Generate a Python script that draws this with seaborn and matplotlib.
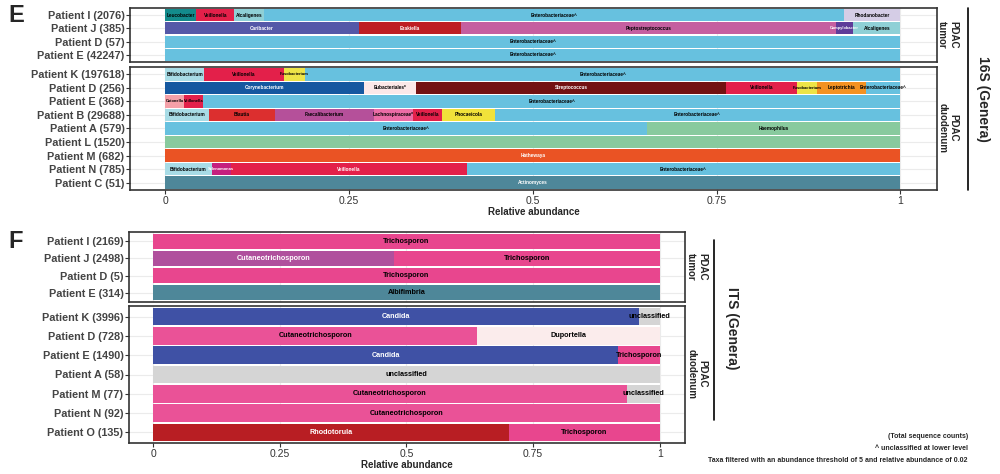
import matplotlib
matplotlib.use('Agg')
import matplotlib.pyplot as plt
import seaborn as sns

# ---- data: 16S genera ----
e_tumor_rows = ['Patient I (2076)', 'Patient J (385)', 'Patient D (57)', 'Patient E (42247)']
e_tumor_segs = [
    [('Leucobacter', 0.042), ('Veillonella', 0.052), ('Alcaligenes', 0.040), ('Enterobacteriaceae^', 0.790), ('Rhodanobacter', 0.076)],
    [('Caribacter', 0.263), ('Ezakiella', 0.140), ('Peptostreptococcus', 0.510), ('Campylobacter', 0.023), ('Alcaligenes', 0.064)],
    [('Enterobacteriaceae^', 1.0)],
    [('Enterobacteriaceae^', 1.0)],
]
e_duo_rows = ['Patient K (197618)', 'Patient D (256)', 'Patient E (368)', 'Patient B (29688)', 'Patient A (579)',
              'Patient L (1520)', 'Patient M (682)', 'Patient N (785)', 'Patient C (51)']
e_duo_segs = [
    [('Bifidobacterium', 0.053), ('Veillonella', 0.108), ('Fusobacterium', 0.029), ('Enterobacteriaceae^', 0.810)],
    [('Corynebacterium', 0.271), ('Eubacteriales*', 0.070), ('Streptococcus', 0.422), ('Veillonella', 0.097),
     ('Fusobacterium', 0.027), ('Leptotrichia', 0.067), ('Enterobacteriaceae^', 0.046)],
    [('Catonella', 0.026), ('Veillonella', 0.025), ('Enterobacteriaceae^', 0.949)],
    [('Bifidobacterium', 0.060), ('Blautia', 0.089), ('Faecalibacterium', 0.135), ('Lachnospiraceae*', 0.053),
     ('Veillonella', 0.040), ('Phocaeicola', 0.071), ('Enterobacteriaceae^', 0.552)],
    [('Enterobacteriaceae^', 0.655), ('Haemophilus', 0.345)],
    [('Haemophilus', 1.0)],
    [('Hathewaya', 1.0)],
    [('Bifidobacterium', 0.063), ('Selenomonas', 0.026), ('Veillonella', 0.321), ('Enterobacteriaceae^', 0.590)],
    [('Actinomyces', 1.0)],
]

# ---- data: ITS genera ----
f_tumor_rows = ['Patient I (2169)', 'Patient J (2498)', 'Patient D (5)', 'Patient E (314)']
f_tumor_segs = [
    [('Trichosporon', 1.0)],
    [('Cutaneotrichosporon', 0.475), ('Trichosporon', 0.525)],
    [('Trichosporon', 1.0)],
    [('Albifimbria', 1.0)],
]
f_duo_rows = ['Patient K (3996)', 'Patient D (728)', 'Patient E (1490)', 'Patient A (58)',
              'Patient M (77)', 'Patient N (92)', 'Patient O (135)']
f_duo_segs = [
    [('Candida', 0.960), ('unclassified', 0.040)],
    [('Cutaneotrichosporon', 0.640), ('Duportella', 0.360)],
    [('Candida', 0.918), ('Trichosporon', 0.082)],
    [('unclassified', 1.0)],
    [('Cutaneotrichosporon', 0.935), ('unclassified', 0.065)],
    [('Cutaneotrichosporon', 1.0)],
    [('Rhodotorula', 0.703), ('Trichosporon', 0.297)],
]

colors = {
    'Enterobacteriaceae^': '#67C1DF', 'Veillonella': '#E3204A', 'Leucobacter': '#138B8C',
    'Alcaligenes': '#8FD0D6', 'Rhodanobacter': '#D5CDE6', 'Caribacter': '#5458A8',
    'Ezakiella': '#BE1E24', 'Peptostreptococcus': '#C55FA0', 'Campylobacter': '#5E3C99',
    'Bifidobacterium': '#A8DCE6', 'Fusobacterium': '#EDE447', 'Corynebacterium': '#1558A0',
    'Eubacteriales*': '#FBE8E8', 'Streptococcus': '#731212', 'Leptotrichia': '#F39222',
    'Catonella': '#F4A0A8', 'Blautia': '#DC2F2F', 'Faecalibacterium': '#B5509A',
    'Lachnospiraceae*': '#EC6CA6', 'Phocaeicola': '#F1E23A', 'Haemophilus': '#88CA9E',
    'Hathewaya': '#EA5324', 'Selenomonas': '#C51F7E', 'Actinomyces': '#4E8799',
    'Trichosporon': '#E8468E', 'Cutaneotrichosporon': '#EA5297', 'Albifimbria': '#4E8799',
    'Candida': '#3F51A5', 'unclassified': '#D5D5D5', 'Duportella': '#FBECEC', 'Rhodotorula': '#B81E23',
}
white_text = {'Caribacter', 'Ezakiella', 'Corynebacterium', 'Streptococcus', 'Selenomonas',
              'Hathewaya', 'Actinomyces', 'Campylobacter', 'Candida', 'Rhodotorula'}

sns.set_theme(style='whitegrid')
plt.rcParams['font.family'] = ['Liberation Sans', 'DejaVu Sans']

fig = plt.figure(figsize=(10, 4.74), dpi=100)
W, H = 1000, 474


def add_ax(x0, x1, y0, y1):
    return fig.add_axes([x0 / W, 1 - y1 / H, (x1 - x0) / W, (y1 - y0) / H])


def draw(ax, rows, segs, fs, show_x, j_purple=False):
    n = len(rows)
    for i, row in enumerate(segs):
        left = 0
        for taxon, val in row:
            c = colors[taxon]
            if j_purple and i == 1 and taxon == 'Cutaneotrichosporon':
                c = '#B0509D'
            ax.barh(i, val, left=left, height=0.92, color=c, edgecolor='none', zorder=2)
            tc = 'white' if (taxon in white_text or (j_purple and c == '#B0509D')) else 'black'
            if taxon == 'Veillonella' and i == 7 and n == 9:
                tc = 'white'
            if not (taxon == 'Haemophilus' and val == 1.0):
                tfs = fs * 0.85 if val < 0.03 else fs
                ax.text(left + val / 2, i, taxon, ha='center', va='center', fontsize=tfs,
                        fontweight='bold', color=tc, zorder=3)
            left += val
    ax.set_ylim(n - 0.45, -0.55)
    ax.set_xlim(-0.048, 1.05)
    ax.set_yticks(range(n))
    ax.set_yticklabels(rows, fontsize=7.8, fontweight='bold', color='#444444')
    ax.set_xticks([0, 0.25, 0.5, 0.75, 1])
    ax.tick_params(axis='both', length=3, width=0.8, color='#333333', left=True, bottom=show_x, pad=1)
    if show_x:
        ax.set_xticklabels(['0', '0.25', '0.5', '0.75', '1'], fontsize=7.5, color='#333333')
        ax.set_xlabel('Relative abundance', fontsize=7, fontweight='bold', labelpad=1)
    else:
        ax.set_xticklabels([])
    ax.grid(True, color='#EBEBEB', linewidth=0.8, zorder=0)
    for s in ax.spines.values():
        s.set_color('#333333')
        s.set_linewidth(1.2)


axE1 = add_ax(130, 937, 8, 62)
draw(axE1, e_tumor_rows, e_tumor_segs, 3.4, False)
axE2 = add_ax(130, 937, 67, 190)
draw(axE2, e_duo_rows, e_duo_segs, 3.4, True)
axF1 = add_ax(129, 685, 232, 302)
draw(axF1, f_tumor_rows, f_tumor_segs, 5.2, False, j_purple=True)
axF2 = add_ax(129, 685, 306, 443)
draw(axF2, f_duo_rows, f_duo_segs, 5.2, True)

# strip labels
def ftext(x, y, s, **kw):
    fig.text(x / W, 1 - y / H, s, **kw)

ftext(948, 35, 'PDAC\ntumor', rotation=-90, ha='center', va='center', fontsize=7, fontweight='bold')
ftext(948, 128, 'PDAC\nduodenum', rotation=-90, ha='center', va='center', fontsize=7, fontweight='bold')
ftext(983, 99, '16S (Genera)', rotation=-90, ha='center', va='center', fontsize=10, fontweight='bold')
fig.add_artist(plt.Line2D([968 / W, 968 / W], [1 - 8 / H, 1 - 190 / H], color='black', lw=1.2))

ftext(697, 267, 'PDAC\ntumor', rotation=-90, ha='center', va='center', fontsize=7, fontweight='bold')
ftext(697, 374, 'PDAC\nduodenum', rotation=-90, ha='center', va='center', fontsize=7, fontweight='bold')
ftext(732, 328, 'ITS (Genera)', rotation=-90, ha='center', va='center', fontsize=10, fontweight='bold')
fig.add_artist(plt.Line2D([714 / W, 714 / W], [1 - 240 / H, 1 - 420 / H], color='black', lw=1.2))

ftext(8, 16, 'E', fontsize=17, fontweight='bold', va='center')
ftext(8, 241, 'F', fontsize=17, fontweight='bold', va='center')

ftext(968, 437, '(Total sequence counts)', ha='right', va='center', fontsize=5, fontweight='bold')
ftext(968, 449, '^ unclassified at lower level', ha='right', va='center', fontsize=5, fontweight='bold')
ftext(968, 460, 'Taxa filtered with an abundance threshold of 5 and relative abundance of 0.02',
      ha='right', va='center', fontsize=5, fontweight='bold')

fig.savefig('out.png', dpi=100)
